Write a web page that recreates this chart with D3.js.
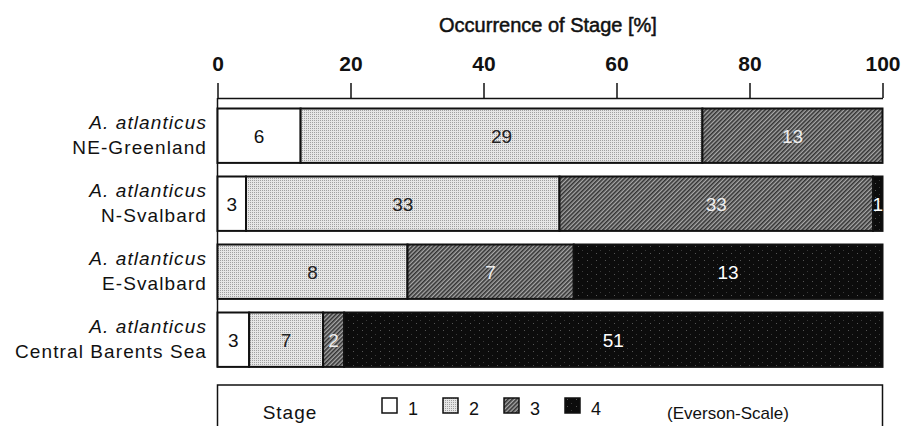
<!DOCTYPE html>
<html>
<head>
<meta charset="utf-8">
<script src="https://cdn.jsdelivr.net/npm/d3@7"></script>
<style>
  body { margin: 0; background: #fff; }
  svg text { font-family: "Liberation Sans", Arial, sans-serif; fill: #111; }
</style>
</head>
<body>
<div id="chart"></div>
<script>
// counts per stage (Everson scale), bars are shown as percent of row total
const sites = ["NE-Greenland", "N-Svalbard", "E-Svalbard", "Central Barents Sea"];
const speciesNames = ["A. atlanticus", "A. atlanticus", "A. atlanticus", "A. atlanticus"];
const stages = ["1", "2", "3", "4"];
const stage1 = [6, 3, 0, 3];
const stage2 = [29, 33, 8, 7];
const stage3 = [13, 33, 7, 2];
const stage4 = [0, 1, 13, 51];
const xTicks = [0, 20, 40, 60, 80, 100];

let width = 903, height = 426;

let svg = d3.select("#chart").append("svg")
    .attr("width", width)
    .attr("height", height);

// fill patterns
let defs = svg.append("defs");

let p2 = defs.append("pattern").attr("id", "fill2")
    .attr("width", 2).attr("height", 2).attr("patternUnits", "userSpaceOnUse");
p2.append("rect").attr("width", 2).attr("height", 2).attr("fill", "#e6e6e6");
p2.append("rect").attr("width", 1).attr("height", 1).attr("fill", "#a0a0a0");

let p3 = defs.append("pattern").attr("id", "fill3")
    .attr("width", 3).attr("height", 3).attr("patternUnits", "userSpaceOnUse")
    .attr("patternTransform", "rotate(45)");
p3.append("rect").attr("width", 3).attr("height", 3).attr("fill", "#a8a8a8");
p3.append("rect").attr("width", 1.6).attr("height", 3).attr("fill", "#333");

let p4 = defs.append("pattern").attr("id", "fill4")
    .attr("width", 9).attr("height", 7).attr("patternUnits", "userSpaceOnUse");
p4.append("rect").attr("width", 9).attr("height", 7).attr("fill", "#0c0c0c");
p4.append("rect").attr("x", 2).attr("y", 1).attr("width", 1).attr("height", 1).attr("fill", "#555");
p4.append("rect").attr("x", 6).attr("y", 5).attr("width", 1).attr("height", 1).attr("fill", "#3a3a3a");

let fills = ["#fff", "url(#fill2)", "url(#fill3)", "url(#fill4)"];
let textColors = ["#111", "#222", "#eee", "#fff"];

let xScale = d3.scaleLinear().domain([0, 100]).range([217.5, 882.5]);
let yScale = d3.scaleBand().domain(sites).range([108.5, 366.9])
    .paddingInner(0.2).paddingOuter(0);

// build rows
let counts = [stage1, stage2, stage3, stage4];
let rows = sites.map((s, i) => {
    let total = d3.sum(counts, c => c[i]);
    let x0 = 0;
    let segs = counts.map((c, k) => {
        let pct = c[i] / total * 100;
        let seg = { site: s, stage: k, count: c[i], x0: x0, x1: x0 + pct };
        x0 += pct;
        return seg;
    });
    return { site: s, segs: segs };
});

// title
svg.append("text")
    .attr("x", 548)
    .attr("y", 32)
    .attr("text-anchor", "middle")
    .style("font-size", "20px")
    .style("stroke", "#111")
    .style("stroke-width", 0.5)
    .text("Occurrence of Stage [%]");

// top axis
let axisY = 98;
let axis = svg.append("g")
    .attr("transform", "translate(0," + axisY + ")")
    .call(d3.axisTop(xScale).tickValues(xTicks).tickSize(15).tickSizeOuter(0).tickPadding(12));
axis.select(".domain").attr("stroke", "#111").attr("stroke-width", 1.5);
axis.selectAll(".tick line").attr("stroke", "#111").attr("stroke-width", 1.5);
axis.selectAll(".tick text")
    .style("font-size", "21px")
    .style("font-weight", "bold")
    .attr("font-family", null)
    .attr("fill", "#111");

// left vertical line
svg.append("line")
    .attr("x1", xScale(0)).attr("x2", xScale(0))
    .attr("y1", axisY).attr("y2", yScale(sites[sites.length - 1]) + yScale.bandwidth())
    .attr("stroke", "#111").attr("stroke-width", 1.5);

// bars
let rowG = svg.selectAll(".row").data(rows).enter().append("g").attr("class", "row");

rowG.selectAll("rect")
    .data(d => d.segs.filter(s => s.count > 0))
    .enter().append("rect")
    .attr("x", d => xScale(d.x0))
    .attr("y", d => yScale(d.site))
    .attr("width", d => xScale(d.x1) - xScale(d.x0))
    .attr("height", yScale.bandwidth())
    .attr("fill", d => fills[d.stage])
    .attr("stroke", "#111")
    .attr("stroke-width", 2);

rowG.selectAll(".val")
    .data(d => d.segs.filter(s => s.count > 0))
    .enter().append("text")
    .attr("class", "val")
    .attr("x", d => xScale((d.x0 + d.x1) / 2))
    .attr("y", d => yScale(d.site) + yScale.bandwidth() / 2)
    .attr("dy", "0.36em")
    .attr("text-anchor", "middle")
    .style("font-size", "19px")
    .style("fill", d => textColors[d.stage])
    .text(d => d.count);

// row labels
let labels = svg.selectAll(".lab").data(sites).enter().append("g")
    .attr("class", "lab")
    .attr("transform", d => "translate(207," + (yScale(d) + yScale.bandwidth() / 2) + ")");
labels.append("text")
    .attr("y", -7)
    .attr("text-anchor", "end")
    .style("font-size", "19px")
    .style("letter-spacing", "1.1px")
    .style("font-style", "italic")
    .text((d, i) => speciesNames[i]);
labels.append("text")
    .attr("y", 18)
    .attr("text-anchor", "end")
    .style("font-size", "19px")
    .style("letter-spacing", "1.1px")
    .text(d => d);

// legend
let legend = svg.append("g");
legend.append("path")
    .attr("d", "M" + xScale(0) + "," + (height + 2) + "V385H" + xScale(100) + "V" + (height + 2))
    .attr("fill", "none")
    .attr("stroke", "#111")
    .attr("stroke-width", 1.5);

legend.append("text")
    .attr("x", 290).attr("y", 419)
    .attr("text-anchor", "middle")
    .style("font-size", "19px")
    .style("letter-spacing", "1px")
    .text("Stage");

let legX = d3.scalePoint().domain(stages).range([382, 565]);
let items = legend.selectAll(".item").data(stages).enter().append("g")
    .attr("transform", d => "translate(" + legX(d) + ",398)");
items.append("rect")
    .attr("width", 15).attr("height", 15)
    .attr("fill", (d, i) => fills[i])
    .attr("stroke", "#111").attr("stroke-width", 1.5);
items.append("text")
    .attr("x", 26).attr("y", 17)
    .style("font-size", "18px")
    .text(d => d);

legend.append("text")
    .attr("x", 728).attr("y", 419)
    .attr("text-anchor", "middle")
    .style("font-size", "17px")
    .text("(Everson-Scale)");
</script>
</body>
</html>
